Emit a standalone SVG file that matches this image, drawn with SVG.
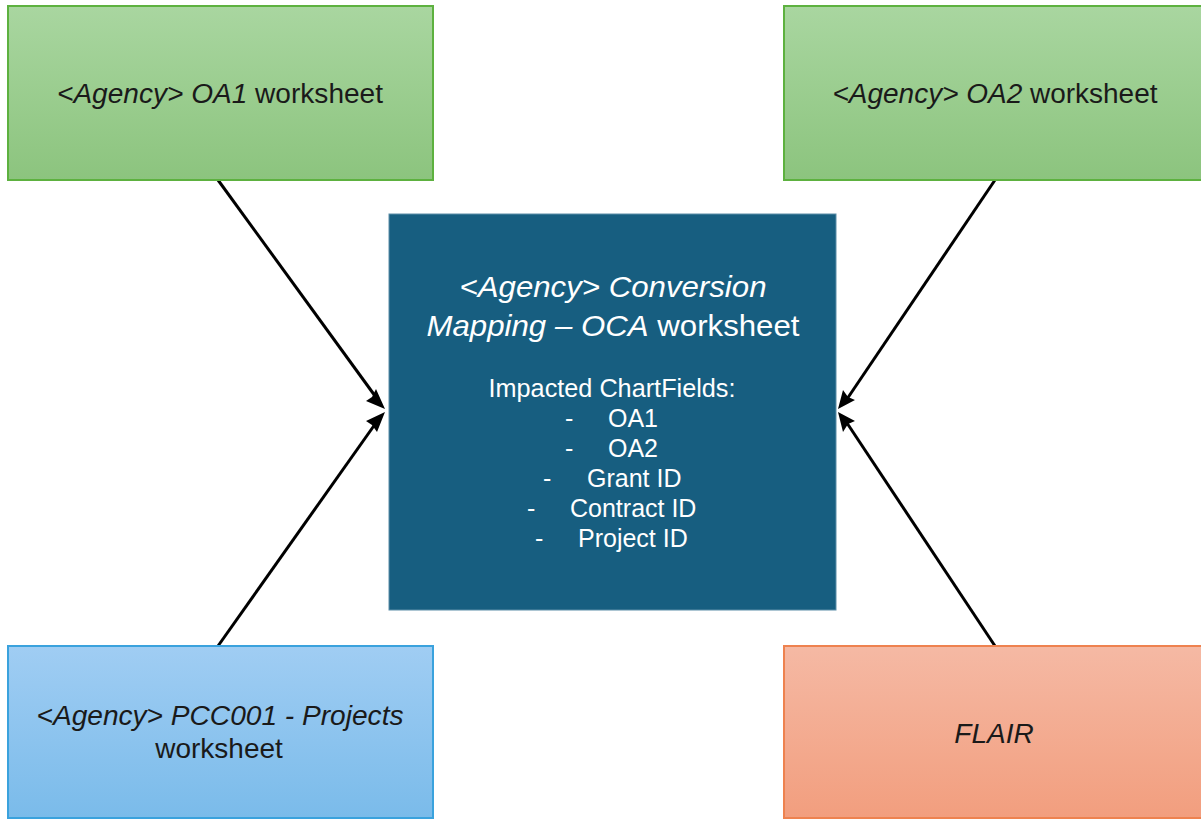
<svg xmlns="http://www.w3.org/2000/svg" width="1201" height="819" viewBox="0 0 1201 819">
<defs>
<linearGradient id="gGreen" x1="0" y1="0" x2="0" y2="1"><stop offset="0" stop-color="#a9d6a0"/><stop offset="1" stop-color="#8cc47e"/></linearGradient>
<linearGradient id="gBlue" x1="0" y1="0" x2="0" y2="1"><stop offset="0" stop-color="#a0cdf3"/><stop offset="1" stop-color="#7abbea"/></linearGradient>
<linearGradient id="gOrange" x1="0" y1="0" x2="0" y2="1"><stop offset="0" stop-color="#f5b9a4"/><stop offset="1" stop-color="#f29e7e"/></linearGradient>
<style>
.lbl{font-family:"Liberation Sans",Arial,sans-serif;fill:#1a1a1a;text-anchor:middle}
.w{font-family:"Liberation Sans",Arial,sans-serif;fill:#ffffff}
.it{font-style:italic}
.conn{stroke:#000;stroke-width:3;fill:none}
</style>
</defs>
<rect width="1201" height="819" fill="#ffffff"/>
<g id="connectors">
<line class="conn" x1="218" y1="180" x2="378" y2="400"/>
<line class="conn" x1="218" y1="646" x2="378" y2="420"/>
<line class="conn" x1="995" y1="180" x2="845" y2="402"/>
<line class="conn" x1="995" y1="646" x2="845" y2="420"/>
<g fill="#000">
<path d="M385,409 L366,401 L372,397 L376,389 Z"/>
<path d="M385,412 L377,432 L372,425 L366,421 Z"/>
<path d="M838,409 L843,390 L848,397 L855,400 Z"/>
<path d="M838,412 L855,421 L848,424 L843,432 Z"/>
</g>
</g>
<g id="oa1">
<rect x="8" y="6" width="425" height="174" fill="url(#gGreen)" stroke="#5db13f" stroke-width="2"/>
<text class="lbl" x="220" y="103" font-size="27" textLength="326" lengthAdjust="spacingAndGlyphs"><tspan class="it">&lt;Agency&gt; OA1</tspan> worksheet</text>
</g>
<g id="oa2">
<rect x="784" y="6" width="425" height="174" fill="url(#gGreen)" stroke="#5db13f" stroke-width="2"/>
<text class="lbl" x="995" y="103" font-size="27" textLength="325" lengthAdjust="spacingAndGlyphs"><tspan class="it">&lt;Agency&gt; OA2</tspan> worksheet</text>
</g>
<g id="center">
<rect x="389" y="214" width="447" height="396" fill="#175e80" stroke="#5d8ea8" stroke-width="1"/>
<text class="w it" x="613" y="297" font-size="30" text-anchor="middle" textLength="307" lengthAdjust="spacingAndGlyphs">&lt;Agency&gt; Conversion</text>
<text class="w" x="613" y="336" font-size="30" text-anchor="middle" textLength="373" lengthAdjust="spacingAndGlyphs"><tspan class="it">Mapping – OCA</tspan> worksheet</text>
<text class="w" x="612" y="397" font-size="25" text-anchor="middle" textLength="247" lengthAdjust="spacingAndGlyphs">Impacted ChartFields:</text>
<g font-size="25">
<text class="w" x="565" y="427">-</text><text class="w" x="608" y="427">OA1</text>
<text class="w" x="565" y="457">-</text><text class="w" x="608" y="457">OA2</text>
<text class="w" x="543" y="487">-</text><text class="w" x="587" y="487">Grant ID</text>
<text class="w" x="527" y="517">-</text><text class="w" x="570" y="517">Contract ID</text>
<text class="w" x="535" y="547">-</text><text class="w" x="578" y="547">Project ID</text>
</g>
</g>
<g id="pcc001">
<rect x="8" y="646" width="425" height="172" fill="url(#gBlue)" stroke="#3aa2dd" stroke-width="2"/>
<text class="lbl it" x="220" y="725" font-size="27" textLength="367" lengthAdjust="spacingAndGlyphs">&lt;Agency&gt; PCC001 - Projects</text>
<text class="lbl" x="219" y="758" font-size="28">worksheet</text>
</g>
<g id="flair">
<rect x="784" y="646" width="425" height="172" fill="url(#gOrange)" stroke="#ee824f" stroke-width="2"/>
<text class="lbl it" x="994" y="743" font-size="28">FLAIR</text>
</g>
</svg>
